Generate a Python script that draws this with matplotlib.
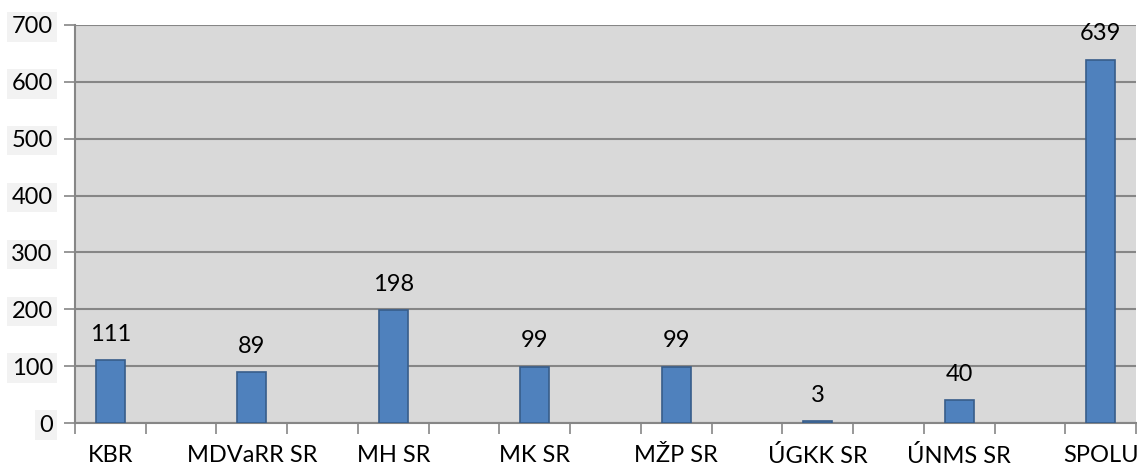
import numpy as np
import matplotlib
matplotlib.use("Agg")
import matplotlib.pyplot as plt

plt.rcParams['font.family'] = ['Lato', 'DejaVu Sans']

# data
categories = ['KBR', 'MDVaRR SR', 'MH SR', 'MK SR', 'MŽP SR', 'ÚGKK SR', 'ÚNMS SR', 'SPOLU']
values = [111, 89, 198, 99, 99, 3, 40, 639]
y_ticks = [0, 100, 200, 300, 400, 500, 600, 700]

grid_col = '#868686'
bar_col = '#4F81BD'
edge_col = '#385D8A'

fig = plt.figure(figsize=(11.37, 4.66), dpi=100)
ax = fig.add_axes([75 / 1137, 1 - 423 / 466, 1061 / 1137, 398 / 466])
ax.set_facecolor('#D9D9D9')

# every category takes two slots, the second one stays empty
xpos = np.arange(len(categories)) * 2
bars = ax.bar(xpos, values, width=0.41, color=bar_col, edgecolor=edge_col,
              linewidth=1.2, zorder=3)

for x, v in zip(xpos, values):
    ax.annotate(str(v), (x, v), xytext=(0, 11), textcoords='offset points',
                ha='center', va='bottom', fontsize=17, color='#000000')

ax.set_xlim(-0.5, xpos[-1] + 0.5)
ax.set_ylim(0, 700)
ax.set_yticks(y_ticks)
ax.set_yticklabels([str(t) for t in y_ticks], fontsize=17)
for lab in ax.get_yticklabels():
    lab.set_bbox(dict(facecolor='#F2F2F2', edgecolor='none', pad=3))

ax.set_xticks(xpos)
ax.set_xticklabels(categories, fontsize=17)
ax.set_xticks(np.arange(-0.5, xpos[-1] + 1, 1), minor=True)
ax.tick_params(axis='x', which='major', length=0, pad=16)
ax.tick_params(axis='x', which='minor', length=8, color=grid_col, width=1.2)
ax.tick_params(axis='y', length=8, color=grid_col, width=1.2, pad=8)

ax.yaxis.grid(True, color=grid_col, linewidth=1.5, zorder=1)
ax.set_axisbelow(True)
for side in ['top', 'right']:
    ax.spines[side].set_visible(False)
for side in ['left', 'bottom']:
    ax.spines[side].set_color(grid_col)
    ax.spines[side].set_linewidth(1.5)

fig.savefig('out.png', dpi=100)
